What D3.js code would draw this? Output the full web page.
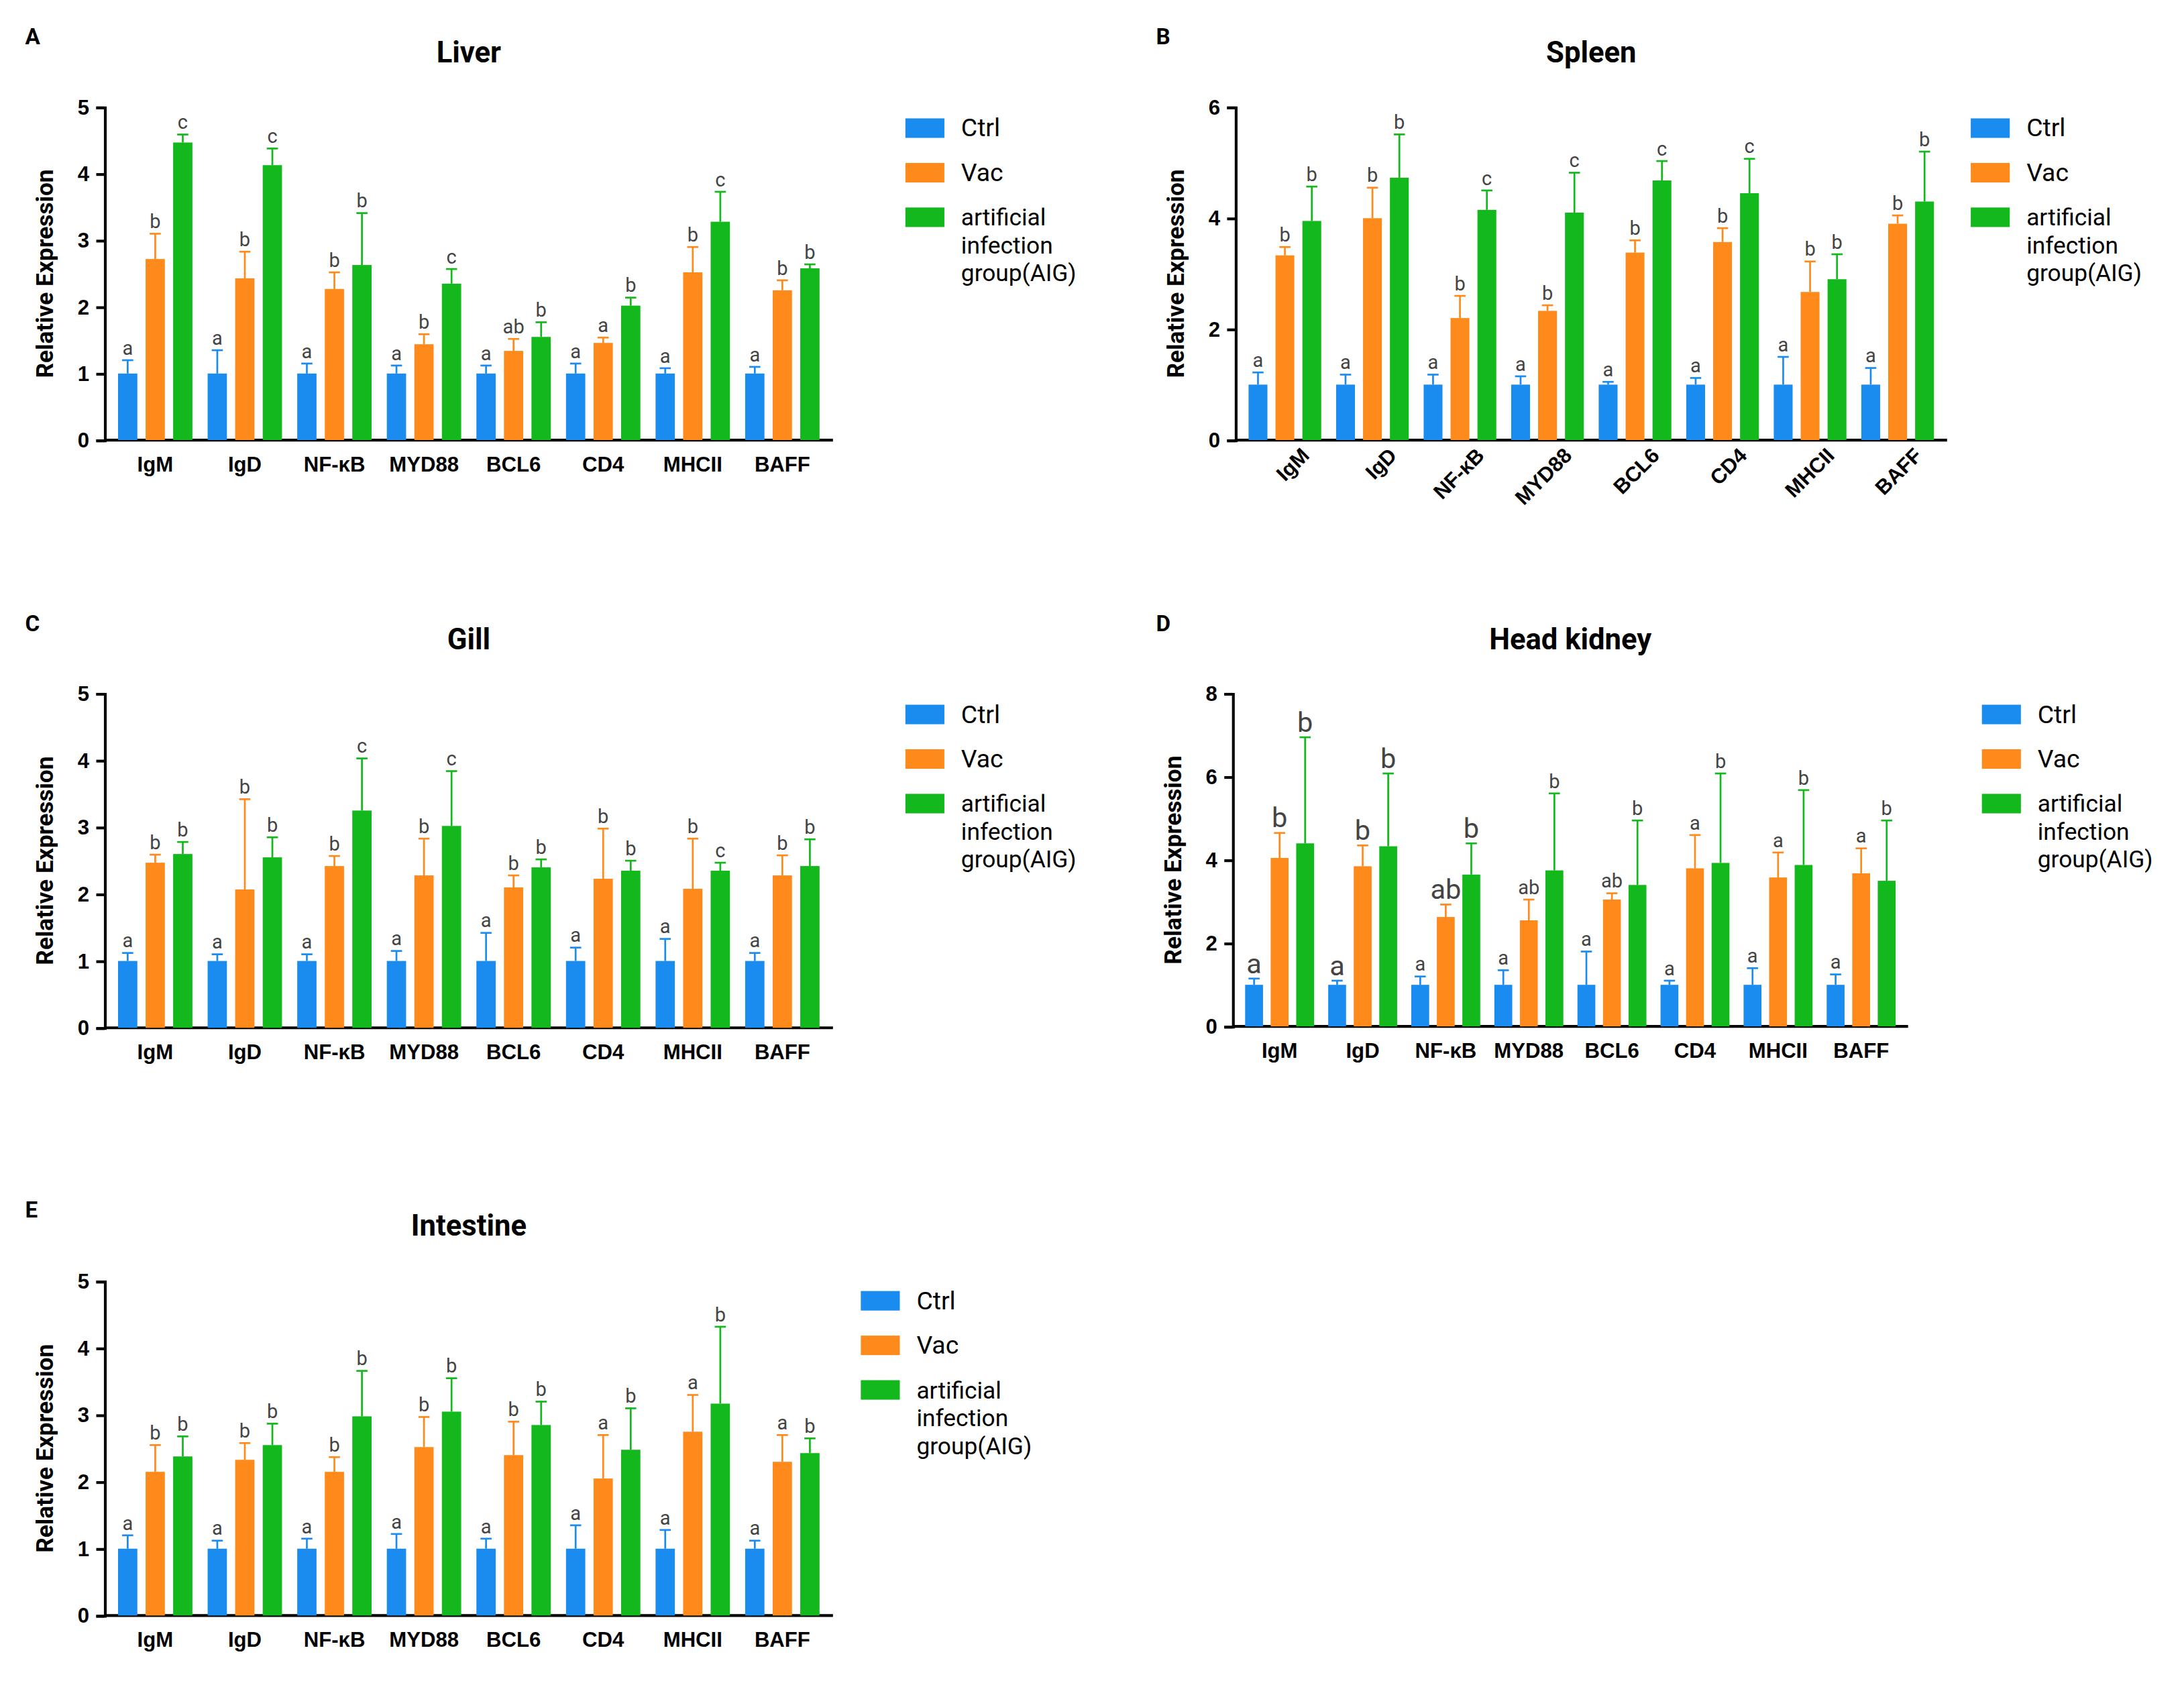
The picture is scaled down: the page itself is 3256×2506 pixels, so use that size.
<!DOCTYPE html>
<html><head><meta charset="utf-8">
<script src="https://cdn.jsdelivr.net/npm/d3@7"></script>
<style>body{margin:0;background:#fff}</style>
</head><body>
<div id="chart"></div>
<script>
const genes = ['IgM','IgD','NF-κB','MYD88','BCL6','CD4','MHCII','BAFF'];
const groups = ['Ctrl','Vac','artificial infection group(AIG)'];
const colors = ['#1a8cf0','#ff8a1c','#13b81c'];

// Liver
const liverCtrl = [1,1,1,1,1,1,1,1];
const liverCtrlErr = [0.2,0.35,0.15,0.12,0.12,0.15,0.08,0.1];
const liverVac = [2.72,2.43,2.27,1.44,1.34,1.46,2.52,2.25];
const liverVacErr = [0.38,0.4,0.25,0.15,0.18,0.08,0.38,0.15];
const liverAIG = [4.47,4.13,2.63,2.35,1.55,2.02,3.28,2.58];
const liverAIGErr = [0.12,0.25,0.78,0.22,0.22,0.12,0.45,0.06];
const liverLetters = [['a','b','c'],['a','b','c'],['a','b','b'],['a','b','c'],['a','ab','b'],['a','a','b'],['a','b','c'],['a','b','b']];

// Spleen
const spleenCtrl = [1,1,1,1,1,1,1,1];
const spleenCtrlErr = [0.22,0.18,0.18,0.15,0.05,0.12,0.5,0.3];
const spleenVac = [3.33,4.0,2.2,2.33,3.38,3.57,2.67,3.9];
const spleenVacErr = [0.15,0.55,0.4,0.1,0.22,0.25,0.55,0.15];
const spleenAIG = [3.95,4.73,4.15,4.1,4.68,4.45,2.9,4.3];
const spleenAIGErr = [0.62,0.78,0.35,0.72,0.35,0.62,0.45,0.9];
const spleenLetters = [['a','b','b'],['a','b','b'],['a','b','c'],['a','b','c'],['a','b','c'],['a','b','c'],['a','b','b'],['a','b','b']];

// Gill
const gillCtrl = [1,1,1,1,1,1,1,1];
const gillCtrlErr = [0.12,0.1,0.1,0.15,0.42,0.2,0.33,0.12];
const gillVac = [2.47,2.07,2.42,2.28,2.1,2.23,2.08,2.28];
const gillVacErr = [0.12,1.35,0.15,0.55,0.18,0.75,0.75,0.3];
const gillAIG = [2.6,2.55,3.25,3.02,2.4,2.35,2.35,2.42];
const gillAIGErr = [0.18,0.3,0.78,0.82,0.12,0.15,0.12,0.4];
const gillLetters = [['a','b','b'],['a','b','b'],['a','b','c'],['a','b','c'],['a','b','b'],['a','b','b'],['a','b','c'],['a','b','b']];

// Head kidney
const kidneyCtrl = [1,1,1,1,1,1,1,1];
const kidneyCtrlErr = [0.15,0.1,0.2,0.35,0.8,0.1,0.4,0.25];
const kidneyVac = [4.05,3.85,2.63,2.55,3.05,3.8,3.58,3.68];
const kidneyVacErr = [0.6,0.5,0.3,0.5,0.15,0.8,0.6,0.6];
const kidneyAIG = [4.4,4.33,3.65,3.75,3.4,3.93,3.88,3.5];
const kidneyAIGErr = [2.55,1.75,0.75,1.85,1.55,2.15,1.8,1.45];
const kidneyLetters = [['a','b','b'],['a','b','b'],['a','ab','b'],['a','ab','b'],['a','ab','b'],['a','a','b'],['a','a','b'],['a','a','b']];

// Intestine
const intCtrl = [1,1,1,1,1,1,1,1];
const intCtrlErr = [0.2,0.12,0.15,0.22,0.15,0.35,0.28,0.12];
const intVac = [2.15,2.33,2.15,2.52,2.4,2.05,2.75,2.3];
const intVacErr = [0.4,0.25,0.22,0.45,0.5,0.65,0.55,0.4];
const intAIG = [2.38,2.55,2.98,3.05,2.85,2.48,3.17,2.43];
const intAIGErr = [0.3,0.32,0.68,0.5,0.35,0.62,1.15,0.22];
const intLetters = [['a','b','b'],['a','b','b'],['a','b','b'],['a','b','b'],['a','b','b'],['a','a','b'],['a','a','b'],['a','a','b']];

const W = 1568, H = 1207;
const svg = d3.select('#chart').append('svg')
  .attr('width', 3256).attr('height', 2506)
  .attr('viewBox', `0 0 ${W} ${H}`)
  .style('font-family', 'Roboto, Arial, sans-serif');

const panels = [
  {tag:'A', title:'Liver', ox:0, oy:0, x0:75, x1:598, y0:316, y1:77, max:5, step:1, vals:[liverCtrl,liverVac,liverAIG], errs:[liverCtrlErr,liverVacErr,liverAIGErr], letters:liverLetters, rot:false, legX:650, legY:92},
  {tag:'B', title:'Spleen', ox:812, oy:0, x0:887, x1:1398, y0:316, y1:77, max:6, step:2, vals:[spleenCtrl,spleenVac,spleenAIG], errs:[spleenCtrlErr,spleenVacErr,spleenAIGErr], letters:spleenLetters, rot:true, legX:1415, legY:92},
  {tag:'C', title:'Gill', ox:0, oy:0, x0:75, x1:598, y0:738, y1:498, max:5, step:1, vals:[gillCtrl,gillVac,gillAIG], errs:[gillCtrlErr,gillVacErr,gillAIGErr], letters:gillLetters, rot:false, legX:650, legY:513},
  {tag:'D', title:'Head kidney', ox:812, oy:0, x0:885, x1:1370, y0:737, y1:498, max:8, step:2, vals:[kidneyCtrl,kidneyVac,kidneyAIG], errs:[kidneyCtrlErr,kidneyVacErr,kidneyAIGErr], letters:kidneyLetters, rot:false, legX:1423, legY:513, big:[0,1,2]},
  {tag:'E', title:'Intestine', ox:0, oy:0, x0:75, x1:598, y0:1160, y1:920, max:5, step:1, vals:[intCtrl,intVac,intAIG], errs:[intCtrlErr,intVacErr,intAIGErr], letters:intLetters, rot:false, legX:618, legY:934}
];
const tagPos = {A:[18,32],B:[830,32],C:[18,453],D:[830,453],E:[18,874]};
const titleY = {A:45,B:45,C:466,D:466,E:887};

panels.forEach(p => {
  const g = svg.append('g');
  g.append('text').attr('x', tagPos[p.tag][0]).attr('y', tagPos[p.tag][1])
    .attr('font-size', 16).attr('font-weight', 'bold').text(p.tag);
  g.append('text').attr('x', (p.x0 + p.x1) / 2).attr('y', titleY[p.tag])
    .attr('text-anchor', 'middle').attr('font-size', 21).attr('font-weight', 'bold').text(p.title);

  const x = d3.scaleBand().domain(genes).range([p.x0, p.x1]).paddingInner(0.17).paddingOuter(0.15);
  const sub = d3.scaleBand().domain([0,1,2]).range([0, x.bandwidth()]).paddingInner(0.3);
  const y = d3.scaleLinear().domain([0, p.max]).range([p.y0, p.y1]);

  const ya = g.append('g').attr('transform', `translate(${p.x0},0)`)
    .call(d3.axisLeft(y).ticks(p.max / p.step).tickSize(6).tickPadding(5));
  ya.selectAll('text').attr('font-size', 15).attr('font-weight', 'bold').attr('fill', '#000');
  ya.selectAll('line,path').attr('stroke', '#000').attr('stroke-width', 2);

  const xa = g.append('g').attr('transform', `translate(0,${p.y0})`)
    .call(d3.axisBottom(x).tickSize(0).tickPadding(p.rot ? 8 : 12));
  xa.select('path').attr('stroke', '#000').attr('stroke-width', 2).attr('d', `M${p.x0},0H${p.x1}`);
  xa.selectAll('text').attr('font-size', 15).attr('font-weight', 'bold').attr('fill', '#000');
  if (p.rot) xa.selectAll('text').attr('text-anchor', 'end').attr('transform', 'rotate(-45)').attr('dx', '0.3em').attr('dy', '0.9em');

  g.append('text').attr('transform', `translate(${p.x0 - 37},${(p.y0 + p.y1) / 2}) rotate(-90)`)
    .attr('text-anchor', 'middle').attr('font-size', 17).attr('font-weight', 'bold').text('Relative Expression');

  const rows = [];
  genes.forEach((gene, i) => [0,1,2].forEach(k => rows.push({gene, i, k, v: p.vals[k][i], e: p.errs[k][i], l: p.letters[i][k]})));

  const bx = d => x(d.gene) + sub(d.k);
  g.selectAll('.err').data(rows).enter().append('line')
    .attr('x1', d => bx(d) + sub.bandwidth() / 2).attr('x2', d => bx(d) + sub.bandwidth() / 2)
    .attr('y1', d => y(d.v)).attr('y2', d => y(d.v + d.e))
    .attr('stroke', d => colors[d.k]).attr('stroke-width', 1.3);
  g.selectAll('.cap').data(rows).enter().append('line')
    .attr('x1', d => bx(d) + sub.bandwidth() / 2 - 4).attr('x2', d => bx(d) + sub.bandwidth() / 2 + 4)
    .attr('y1', d => y(d.v + d.e)).attr('y2', d => y(d.v + d.e))
    .attr('stroke', d => colors[d.k]).attr('stroke-width', 1.3);
  g.selectAll('.bar').data(rows).enter().append('rect')
    .attr('x', bx).attr('width', sub.bandwidth())
    .attr('y', d => y(d.v)).attr('height', d => y(0) - y(d.v))
    .attr('fill', d => colors[d.k]);
  g.selectAll('.let').data(rows).enter().append('text')
    .attr('x', d => bx(d) + sub.bandwidth() / 2)
    .attr('y', d => y(d.v + d.e) - 4)
    .attr('text-anchor', 'middle')
    .attr('font-size', d => (p.big && p.big.includes(d.i) && d.k > 0) || (p.big && d.i < 2) ? 20 : 14)
    .attr('fill', '#444').text(d => d.l);

  groups.forEach((name, k) => {
    const ly = p.legY + k * 32;
    g.append('rect').attr('x', p.legX).attr('y', ly - 7).attr('width', 28).attr('height', 14).attr('fill', colors[k]);
    if (k < 2) {
      g.append('text').attr('x', p.legX + 40).attr('y', ly + 6).attr('font-size', 18).text(name);
    } else {
      ['artificial','infection','group(AIG)'].forEach((t, j) =>
        g.append('text').attr('x', p.legX + 40).attr('y', ly + 6 + j * 20).attr('font-size', 17).text(t));
    }
  });
});
</script>
</body></html>
